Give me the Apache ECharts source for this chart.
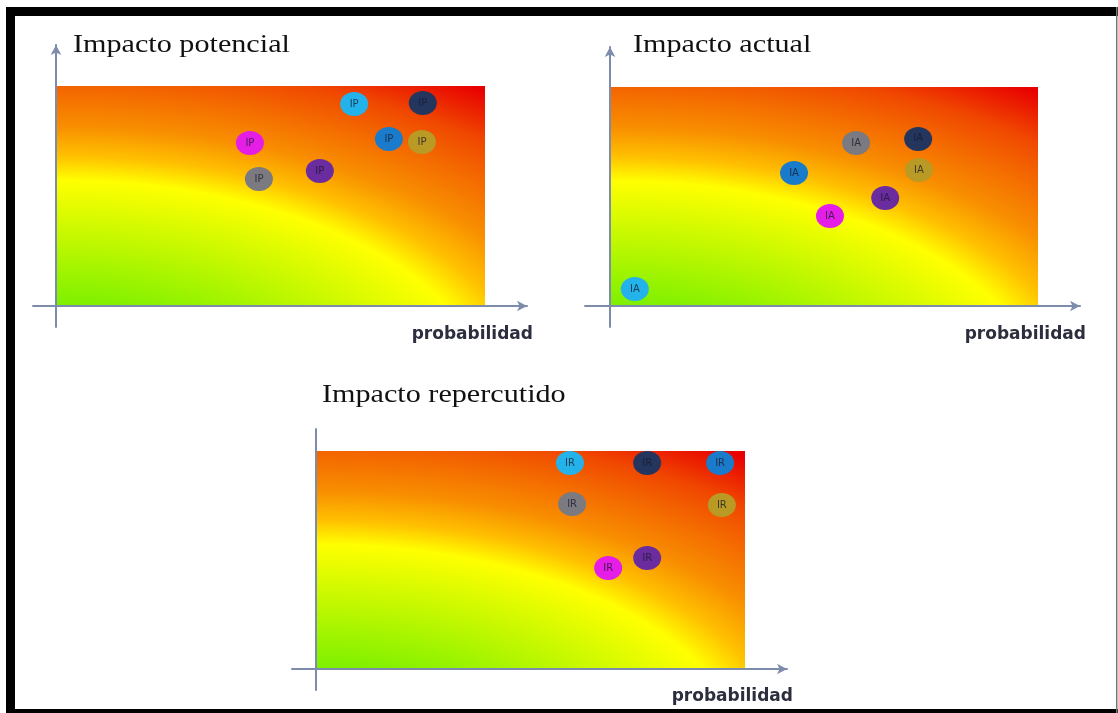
<!DOCTYPE html>
<html>
<head>
<meta charset="utf-8">
<script src="https://cdn.jsdelivr.net/npm/echarts@6/dist/echarts.min.js"></script>
<style>
  html, body { margin: 0; padding: 0; background: #ffffff; }
  #c { width: 1118px; height: 713px; }
</style>
</head>
<body>
<div id="c"></div>
<script>
// Risks plotted in every panel (one coloured dot each)
const riesgos = ['Riesgo 1', 'Riesgo 2', 'Riesgo 3', 'Riesgo 4', 'Riesgo 5', 'Riesgo 6', 'Riesgo 7'];

// Probability (x) and impact (y), scale 0-10 inside the heat rectangle
const potencialX = [6.95, 8.55, 7.76, 8.53, 4.73, 6.15, 4.52];
const potencialY = [9.18, 9.23, 7.59, 7.45, 5.77, 6.14, 7.41];

const actualX = [0.58, 7.20, 4.30, 7.22, 5.75, 6.43, 5.14];
const actualY = [0.78, 7.63, 6.07, 6.21, 7.44, 4.93, 4.11];

const repercutidoX = [5.92, 7.72, 9.42, 9.46, 5.97, 7.72, 6.81];
const repercutidoY = [9.45, 9.45, 9.45, 7.52, 7.57, 5.09, 4.63];

const titulos = ['Impacto potencial', 'Impacto actual', 'Impacto repercutido'];
const etiquetas = ['IP', 'IA', 'IR'];
const nombreEjeX = 'probabilidad';
const escala = [0, 10];

// ---- styling / layout ----
const W = 1118, H = 713;
const colores = ['#23b3ea', '#24365e', '#1b7bcb', '#b99a24', '#7a7a80', '#6a2c9e', '#e41ee6'];
const colorEje = '#7d8cab';

// Heat rectangle box [left, top, right, bottom], axis line extents, title and axis-name anchors
const paneles = [
  { rect: [56, 86, 485, 306], ejeX: [33, 527], ejeY: [327, 45], flechaY: true,
    titulo: [73, 45], nombre: [533, 335], x: potencialX, y: potencialY },
  { rect: [610, 87, 1038, 306], ejeX: [585, 1080], ejeY: [327, 47], flechaY: true,
    titulo: [633, 45], nombre: [1086, 335], x: actualX, y: actualY },
  { rect: [316, 451, 745, 669], ejeX: [292, 787], ejeY: [690, 429], flechaY: false,
    titulo: [322, 395], nombre: [793, 697], x: repercutidoX, y: repercutidoY }
];

// Elliptical heat gradient centred a little below the origin:
// green near the origin, a diagonal yellow band, orange, red at the far corner
const ESTIRAMIENTO = 1.93;
function gradienteCalor(h) {
  return new echarts.graphic.RadialGradient(0, h * 1.455, h * 1.755, [
    { offset: 0.000, color: '#6ee800' },
    { offset: 0.259, color: '#7cf000' },
    { offset: 0.585, color: '#ffff00' },
    { offset: 0.648, color: '#ffc000' },
    { offset: 0.725, color: '#f88e00' },
    { offset: 0.829, color: '#f36400' },
    { offset: 0.894, color: '#f04800' },
    { offset: 1.000, color: '#e80000' }
  ], true);
}

const grid = [], xAxis = [], yAxis = [], series = [], graphic = [];

paneles.forEach((p, i) => {
  const [L, T, R, B] = p.rect;
  const ux = (R - L) / (escala[1] - escala[0]);
  const uy = (B - T) / (escala[1] - escala[0]);

  grid.push({
    left: p.ejeX[0], right: W - p.ejeX[1],
    top: p.ejeY[1], bottom: H - p.ejeY[0]
  });

  xAxis.push({
    type: 'value', gridIndex: i, z: 5,
    min: escala[0] - (L - p.ejeX[0]) / ux,
    max: escala[1] + (p.ejeX[1] - R) / ux,
    axisLine: { show: true, onZero: true, symbol: ['none', 'arrow'], symbolSize: [8, 10],
      lineStyle: { color: colorEje, width: 2 } },
    axisTick: { show: false }, axisLabel: { show: false }, splitLine: { show: false }
  });

  yAxis.push({
    type: 'value', gridIndex: i, z: 5,
    min: escala[0] - (p.ejeY[0] - B) / uy,
    max: escala[1] + (T - p.ejeY[1]) / uy,
    axisLine: { show: true, onZero: true, symbol: p.flechaY ? ['none', 'arrow'] : 'none',
      symbolSize: [8, 10], lineStyle: { color: colorEje, width: 2 } },
    axisTick: { show: false }, axisLabel: { show: false }, splitLine: { show: false }
  });

  // heat rectangle spanning the full 0-10 scale
  series.push({
    type: 'custom', xAxisIndex: i, yAxisIndex: i, z: 1, silent: true,
    data: [[escala[0], escala[0], escala[1], escala[1]]],
    renderItem: (params, api) => {
      const a = api.coord([api.value(0), api.value(1)]);
      const b = api.coord([api.value(2), api.value(3)]);
      const w = b[0] - a[0], h = a[1] - b[1];
      return {
        type: 'rect', x: a[0], y: b[1], scaleX: ESTIRAMIENTO,
        shape: { x: 0, y: 0, width: w / ESTIRAMIENTO, height: h },
        style: { fill: gradienteCalor(h) }
      };
    }
  });

  // risk dots
  series.push({
    type: 'scatter', xAxisIndex: i, yAxisIndex: i, z: 3,
    symbol: 'circle', symbolSize: [28, 24],
    data: riesgos.map((n, k) => ({
      name: n, value: [p.x[k], p.y[k]],
      itemStyle: { color: colores[k], opacity: 1 }
    })),
    label: {
      show: true, position: 'inside', formatter: etiquetas[i],
      fontFamily: 'DejaVu Sans', fontSize: 10, color: 'rgba(25,25,45,0.78)'
    }
  });

  graphic.push({
    type: 'text', x: p.titulo[0], y: p.titulo[1], scaleX: 1.16, z: 10,
    style: { text: titulos[i], font: '26px "Liberation Serif"', fill: '#111111',
      textAlign: 'left', textVerticalAlign: 'middle' }
  });
  graphic.push({
    type: 'text', x: p.nombre[0], y: p.nombre[1], z: 10,
    style: { text: nombreEjeX, font: 'bold 17px "DejaVu Sans"', fill: '#2c2e3e',
      textAlign: 'right', textVerticalAlign: 'middle' }
  });
});

// page frame
graphic.push(
  { type: 'rect', z: 20, shape: { x: 6, y: 7, width: W - 6, height: 9 }, style: { fill: '#000' } },
  { type: 'rect', z: 20, shape: { x: 6, y: 7, width: 9, height: H - 7 }, style: { fill: '#000' } },
  { type: 'rect', z: 20, shape: { x: 6, y: 709, width: W - 6, height: 4 }, style: { fill: '#000' } },
  { type: 'rect', z: 20, shape: { x: 1116, y: 7, width: 1.5, height: H - 7 }, style: { fill: '#777' } }
);

const chart = echarts.init(document.getElementById('c'), null, { renderer: 'canvas' });
chart.setOption({
  animation: false,
  backgroundColor: '#ffffff',
  grid, xAxis, yAxis, series, graphic
});
</script>
</body>
</html>
